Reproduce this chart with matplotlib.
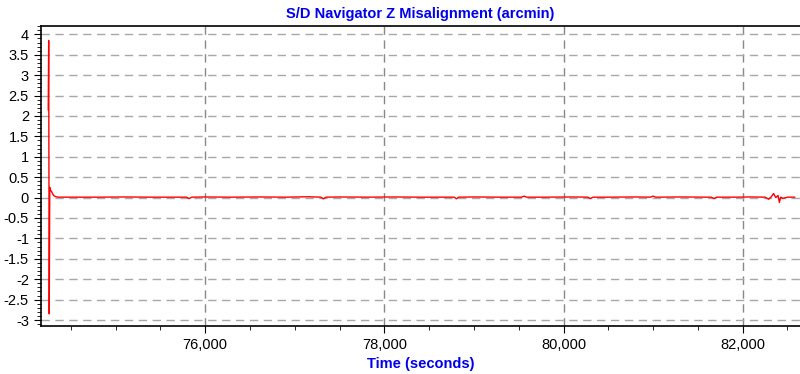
import matplotlib
matplotlib.use('Agg')
import matplotlib.pyplot as plt
from matplotlib.ticker import MultipleLocator, FuncFormatter

plt.rcParams['font.family'] = ['Liberation Sans', 'DejaVu Sans']
plt.rcParams['axes.unicode_minus'] = False

# Time (s) and misalignment (arcmin)
time_s = [74248, 74253, 74259, 74265, 74274, 74287, 74300, 74315, 74335, 74360,
          74500, 74800, 75100, 75400, 75650, 75790, 75821, 75850, 76000, 76300,
          76600, 76900, 77150, 77290, 77320, 77350, 77500, 77800, 78100, 78400,
          78700, 78780, 78805, 78830, 79000, 79300, 79530, 79560, 79590, 79800,
          80100, 80270, 80300, 80330, 80500, 80800, 80970, 81000, 81030, 81300,
          81600, 81650, 81680, 81710, 81900, 82100, 82250, 82290, 82320, 82345,
          82370, 82395, 82410, 82425, 82450, 82500, 82580]
misalign = [2.15, 3.85, -2.85, 0.25, 0.18, 0.14, 0.08, 0.04, 0.02, 0.01,
            0.01, 0.01, 0.015, 0.01, 0.01, 0.01, -0.025, 0.01, 0.015, 0.01,
            0.015, 0.01, 0.02, 0.01, -0.03, 0.01, 0.015, 0.01, 0.015, 0.01,
            0.01, 0.01, -0.03, 0.01, 0.015, 0.01, 0.01, 0.035, 0.01, 0.01,
            0.015, 0.01, -0.025, 0.01, 0.01, 0.015, 0.01, 0.035, 0.01, 0.015,
            0.01, 0.01, -0.025, 0.01, 0.01, 0.015, 0.01, -0.04, 0.02, 0.1,
            0.0, 0.05, -0.12, 0.01, -0.02, 0.01, 0.01]

fig = plt.figure(figsize=(8, 3.74), dpi=100)
ax = fig.add_axes([0.051, 0.128, 0.949, 0.802])

ax.plot(time_s, misalign, color='#ff0000', linewidth=1.0)

ax.set_xlim(74165, 82640)
ax.set_ylim(-3.15, 4.2)

ax.xaxis.set_major_locator(MultipleLocator(2000))
ax.xaxis.set_minor_locator(MultipleLocator(500))
ax.yaxis.set_major_locator(MultipleLocator(0.5))
ax.yaxis.set_minor_locator(MultipleLocator(0.1))
ax.xaxis.set_major_formatter(FuncFormatter(lambda v, p: f"{v:,.0f}"))
ax.yaxis.set_major_formatter(FuncFormatter(lambda v, p: f"{v:g}"))

ax.tick_params(axis='both', which='major', labelsize=10.5, length=5, direction='out')
ax.tick_params(axis='both', which='minor', length=3, direction='out')

ax.grid(True, which='major', axis='y', color='#a8a8a8', linestyle=(0, (6, 4)), linewidth=1)
ax.grid(True, which='major', axis='x', color='#888888', linestyle=(0, (6, 4)), linewidth=1)

ax.spines['right'].set_visible(False)
for s in ['left', 'top', 'bottom']:
    ax.spines[s].set_color('black')
    ax.spines[s].set_linewidth(1.2)

ax.set_title("S/D Navigator Z Misalignment (arcmin)", color='#0000ee',
             fontsize=10.5, fontweight='bold', pad=6)
ax.set_xlabel("Time (seconds)", color='#0000ee', fontsize=10.5, fontweight='bold', labelpad=4)

fig.savefig("out.png", dpi=100)
